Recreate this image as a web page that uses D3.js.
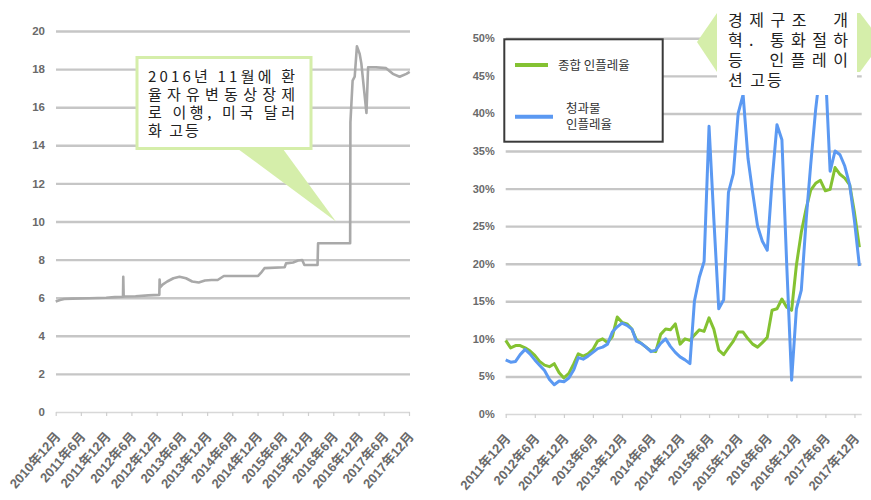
<!DOCTYPE html>
<html><head><meta charset="utf-8">
<script src="https://cdn.jsdelivr.net/npm/d3@7"></script>
<style>body{margin:0;background:#fff}svg{display:block}text{white-space:pre}</style>
</head><body>
<svg id="c" width="871" height="500"></svg>
<script>
// ---------- DATA ----------
const leftYTicks = [0,2,4,6,8,10,12,14,16,18,20];
const leftXLabels = ["2010年12月","2011年6月","2011年12月","2012年6月","2012年12月","2013年6月","2013年12月","2014年6月","2014年12月","2015年6月","2015年12月","2016年6月","2016年12月","2017年6月","2017年12月"];
const rateDates = ["2010-12-01","2011-01-01","2011-02-01","2011-04-01","2011-08-01","2011-12-01","2012-02-01","2012-04-01","2012-04-03","2012-04-06","2012-07-01","2012-10-01","2012-12-20","2012-12-22","2012-12-26","2013-01-15","2013-02-15","2013-04-01","2013-05-15","2013-07-01","2013-08-15","2013-10-01","2013-11-15","2014-01-01","2014-02-15","2014-04-01","2014-12-05","2014-12-25","2015-01-20","2015-06-15","2015-06-25","2015-08-15","2015-09-20","2015-10-20","2015-11-05","2016-02-08","2016-02-12","2016-10-01","2016-10-03","2016-10-19","2016-11-03","2016-11-19","2016-12-09","2016-12-21","2017-01-27","2017-02-08","2017-04-06","2017-06-18","2017-08-06","2017-09-24","2017-11-12","2017-12-06"];
const rateValues = [5.80,5.88,5.93,5.95,5.97,6.00,6.03,6.05,7.10,6.06,6.08,6.12,6.15,6.95,6.55,6.70,6.85,7.02,7.10,7.02,6.85,6.80,6.90,6.93,6.93,7.14,7.14,7.30,7.55,7.60,7.80,7.85,7.95,7.98,7.72,7.72,8.86,8.86,15.2,17.4,17.6,19.2,18.8,18.3,15.7,18.1,18.1,18.05,17.75,17.6,17.75,17.85];

const rightYTicks = [0,5,10,15,20,25,30,35,40,45,50];
const rightXLabels = ["2011年12月","2012年6月","2012年12月","2013年6月","2013年12月","2014年6月","2014年12月","2015年6月","2015年12月","2016年6月","2016年12月","2017年6月","2017年12月"];
const overallInflation = [9.8,8.8,9.1,9.1,8.8,8.4,7.8,7.0,6.5,6.3,6.7,5.5,4.8,5.4,6.7,8.0,7.7,8.0,8.6,9.7,10.0,9.5,10.3,12.9,12.2,12.0,11.3,9.9,9.4,8.9,8.4,8.3,10.6,11.3,11.2,12.0,9.3,10.0,9.8,10.5,11.2,11.0,12.8,11.3,8.5,7.9,8.8,9.7,10.9,10.9,10.0,9.3,8.9,9.5,10.2,13.8,14.0,15.3,14.2,13.8,19.8,24.2,27.4,29.8,30.7,31.1,29.7,29.9,32.8,31.9,31.4,30.5,26.8,22.2];
const produceInflation = [7.2,6.9,7.0,7.9,8.6,8.0,7.2,6.5,5.8,4.6,3.9,4.4,4.3,4.8,5.9,7.5,7.3,7.7,8.2,8.7,8.9,9.3,10.9,11.6,12.1,11.8,11.3,9.7,9.4,8.9,8.3,8.5,9.4,10.0,9.0,8.2,7.6,7.2,6.7,15.0,18.2,20.3,38.3,26.0,14.0,15.2,29.5,32.0,40.0,42.5,34.0,29.5,25.0,23.0,21.8,31.0,38.5,36.5,20.0,4.5,14.0,16.5,26.0,33.2,40.5,46.0,46.0,32.3,35.0,34.5,33.0,30.5,25.7,19.7];
const legendLabels = ["종합 인플레율", ["청과물","인플레율"]];
const leftNote = ["2016년 11월에 환","율자유변동상장제","로 이행, 미국 달러","화 고등"];
const rightNote = ["경제구조  개","혁. 통화절하","등  인플레이","션 고등"];

// ---------- HELPERS ----------
const svg = d3.select("#c");
const parseLabel = s => { const m = s.match(/(\d+)年(\d+)月/); return new Date(+m[1], +m[2]-1, 1); };
const parseDay = d3.timeParse("%Y-%m-%d");
const FONT = "'Liberation Sans', 'Noto Sans CJK KR', sans-serif";
const KFONT = "'Noto Sans CJK KR', sans-serif";
const GRID = "#c6c6c6", LABEL = "#6a6a6a";
const GREEN = "#84c232", BLUE = "#5b99f2", CALLOUT = "#d5eeaa";

function drawPanel(g, x, y, yTicks, yFmt, xLabels, x0, gridEnd, yFont) {
  const ya = d3.axisLeft(y).tickValues(yTicks).tickSize(-(gridEnd - x0)).tickPadding(11).tickFormat(yFmt);
  const gy = g.append("g").attr("transform", `translate(${x0},0)`).call(ya);
  gy.select(".domain").remove();
  gy.selectAll(".tick line").attr("stroke", d => d === 0 ? "#d8d8d8" : GRID).attr("stroke-width", d => d === 0 ? 1.5 : 2.4);
  gy.selectAll(".tick text").attr("fill", LABEL).attr("font-size", yFont).attr("font-weight", "bold").attr("font-family", FONT);
  const tickDates = xLabels.map(parseLabel);
  const xa = d3.axisBottom(x).tickValues(tickDates).tickSize(4).tickFormat((d, i) => xLabels[i]);
  const gx = g.append("g").attr("transform", `translate(0,${y(0)})`).call(xa);
  gx.select(".domain").remove();
  gx.selectAll(".tick line").attr("stroke", "#cfcfcf").attr("stroke-width", 1.2);
  gx.selectAll(".tick text").attr("fill", LABEL).attr("font-size", 13).attr("font-weight", "bold").attr("font-family", FONT)
    .attr("text-anchor", "end").attr("y", 0).attr("dy", 0).attr("transform", "translate(5,25) rotate(-49)");
}

// ---------- LEFT CHART ----------
const gL = svg.append("g");
const xL = d3.scaleTime().domain([new Date(2010,11,1), new Date(2017,11,1)]).range([55.7, 409]);
const yL = d3.scaleLinear().domain([0,20]).range([412, 31]);
drawPanel(gL, xL, yL, leftYTicks, d => d, leftXLabels, 56, 410, 11.5);
const rateData = rateDates.map((d, i) => ({date: parseDay(d), v: rateValues[i]}));
gL.append("path").datum(rateData)
  .attr("fill", "none").attr("stroke", "#a9a9a9").attr("stroke-width", 2.6).attr("stroke-linejoin", "round")
  .attr("d", d3.line().x(d => xL(d.date)).y(d => yL(d.v)));

// left callout
const tipL = [xL(new Date(2016,5,20)), yL(10)];
gL.append("polygon").attr("points", `238,149 283,149 ${tipL[0]},${tipL[1]}`).attr("fill", CALLOUT);
gL.append("rect").attr("x", 137).attr("y", 57.5).attr("width", 174).attr("height", 91)
  .attr("fill", "#fff").attr("stroke", CALLOUT).attr("stroke-width", 3);
leftNote.forEach((t, i) => {
  const tx = gL.append("text").attr("x", 148).attr("y", 82 + i*18).attr("font-size", 15)
    .attr("font-family", KFONT).attr("fill", "#222").text(t);
  if (i < leftNote.length - 1) tx.attr("textLength", 147).attr("lengthAdjust", "spacing");
  else tx.attr("letter-spacing", 2);
});

// ---------- RIGHT CHART ----------
const gR = svg.append("g");
const xR = d3.scaleTime().domain([new Date(2011,11,1), new Date(2018,0,1)]).range([505.7, 859.4]);
const yR = d3.scaleLinear().domain([0,50]).range([414, 38.3]);
drawPanel(gR, xR, yR, rightYTicks, d => d + "%", rightXLabels, 505.7, 861.7, 11);
const months = d3.timeMonth.range(new Date(2011,11,1), new Date(2018,1,1));
const lineR = d3.line().x((d, i) => xR(months[i])).y(d => yR(d));
gR.append("path").datum(overallInflation).attr("fill", "none").attr("stroke", GREEN).attr("stroke-width", 3)
  .attr("stroke-linejoin", "round").attr("d", lineR);
gR.append("path").datum(produceInflation).attr("fill", "none").attr("stroke", BLUE).attr("stroke-width", 3)
  .attr("stroke-linejoin", "round").attr("d", lineR);

// legend
const lg = gR.append("g");
lg.append("rect").attr("x", 504.3).attr("y", 39.3).attr("width", 158.4).attr("height", 102.4)
  .attr("fill", "#fff").attr("stroke", "#3a3a3a").attr("stroke-width", 2);
lg.append("line").attr("x1", 515).attr("x2", 548).attr("y1", 65).attr("y2", 65).attr("stroke", GREEN).attr("stroke-width", 4);
lg.append("text").attr("x", 558).attr("y", 70).attr("font-size", 12.5).attr("font-family", KFONT).attr("fill", "#333").text(legendLabels[0]);
lg.append("line").attr("x1", 515).attr("x2", 553).attr("y1", 116.7).attr("y2", 116.7).attr("stroke", BLUE).attr("stroke-width", 4);
legendLabels[1].forEach((t, i) => lg.append("text").attr("x", 566).attr("y", 113 + i*16).attr("font-size", 12.5)
  .attr("font-family", KFONT).attr("fill", "#333").text(t));

// right callout
gR.append("polygon").attr("points", "697,42 717,13 860,13 882,42 860,72 717,72").attr("fill", CALLOUT);
gR.append("rect").attr("x", 717).attr("y", 0).attr("width", 140).attr("height", 95).attr("fill", "#fff");
rightNote.forEach((t, i) => {
  const tx = gR.append("text").attr("x", 728).attr("y", 26 + i*20).attr("font-size", 16)
    .attr("font-family", KFONT).attr("fill", "#222").text(t);
  if (i < rightNote.length - 1) tx.attr("textLength", 120).attr("lengthAdjust", "spacing");
  else tx.attr("letter-spacing", 2);
});
</script>
</body></html>
